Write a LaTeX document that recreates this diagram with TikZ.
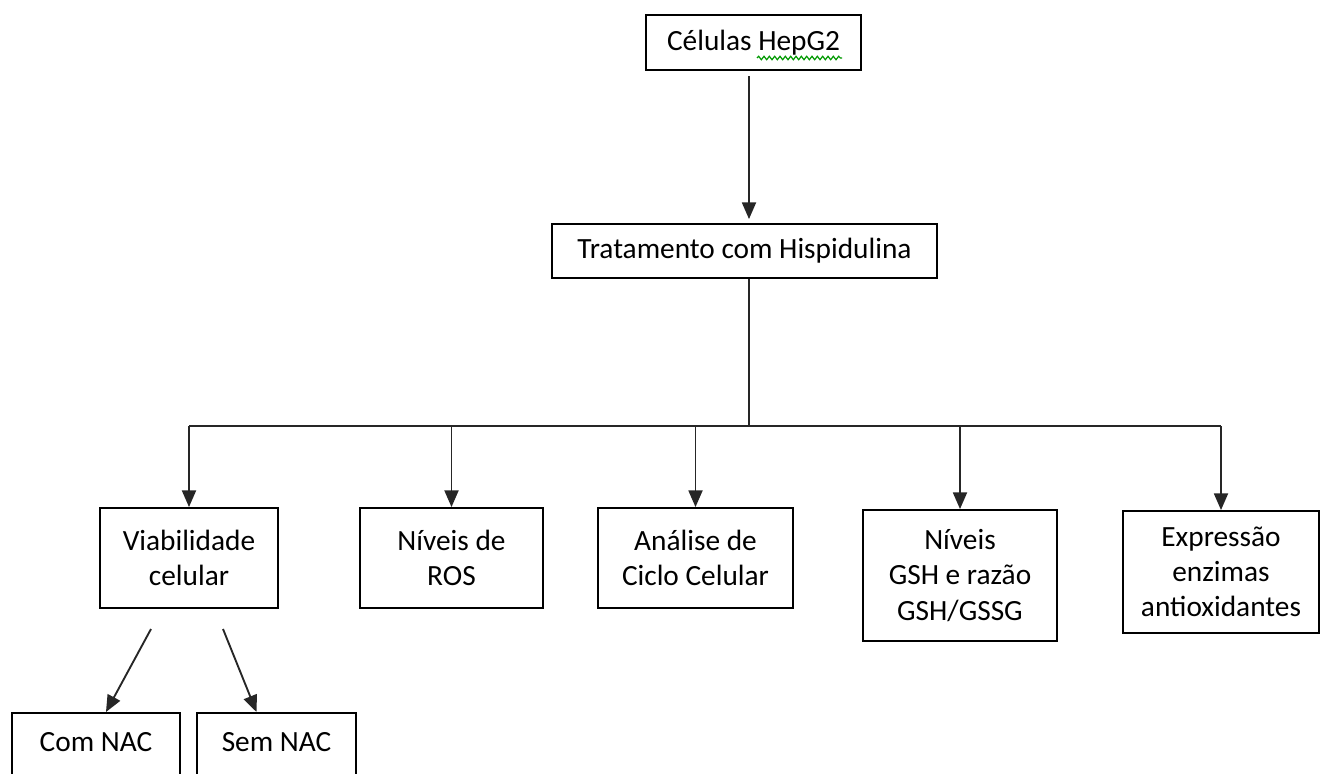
\documentclass[tikz,border=0pt]{standalone}
\usepackage{fontspec}
\setmainfont{Carlito}
\usetikzlibrary{arrows.meta,calc,decorations.pathmorphing}
\tikzset{
  box/.style 2 args={draw=black, line width=1.4pt, inner sep=0pt, align=center,
    minimum width=#1*0.75pt, minimum height=#2*0.75pt,
    font=\fontsize{22}{26.3}\selectfont},
  conn/.style={draw=black!85, line width=1.4pt},
  arr/.style={conn, -{Triangle[length=12.5pt,width=10.5pt]}},
}
\begin{document}
\begin{tikzpicture}[x=0.75pt,y=-0.75pt]
\clip (0,0) rectangle (1321,774);
\fill[white] (0,0) rectangle (1321,774);
% nodes
\node[box={215}{55}] (cel) at (753.5,42.5) {Células HepG2};
\node[box={385}{54}] (trat) at (744.5,251) {Tratamento com Hispidulina};
\node[box={178}{100}] (viab) at (189,558) {Viabilidade\\celular};
\node[box={183}{100}] (ros) at (451.5,558) {Níveis de\\ROS};
\node[box={195}{100}] (ana) at (695.5,558) {Análise de\\Ciclo Celular};
\node[box={194}{131}] (gsh) at (960,575.5) {Níveis\\GSH e razão\\GSH/GSSG};
\node[box={196}{122}] (exp) at (1221,572) {Expressão\\enzimas\\antioxidantes};
\node[box={168}{0}, anchor=north, inner ysep=14.5pt, text depth=50pt] (com) at (96,712) {Com NAC};
\node[box={159}{0}, anchor=north, inner ysep=14.5pt, text depth=50pt] (sem) at (276.5,712) {Sem NAC};
% spell-check squiggle
\draw[green!60!black, line width=0.9pt, decorate,
  decoration={snake, amplitude=1.3pt, segment length=4pt}] (757,58) -- (842,58);
% coordinates
\coordinate (spine) at (749,426);
\coordinate (v1) at (151,629);
\coordinate (v2) at (223,629);
% connectors
\draw[arr, shorten <=4pt, shorten >=3pt] (cel.south -| spine) -- (trat.north -| spine);
\draw[conn] (trat.south -| spine) -- (spine);
\draw[conn] (spine -| viab.north) -- (spine -| exp.north);
\foreach \n in {viab,ros,ana,gsh,exp}
  \draw[arr] (spine -| \n.north) -- (\n.north);
\draw[arr] (v1) -- ($(com.north)+(10,0)$);
\draw[arr] (v2) -- ($(sem.north)+(-20,0)$);
\end{tikzpicture}
\end{document}
